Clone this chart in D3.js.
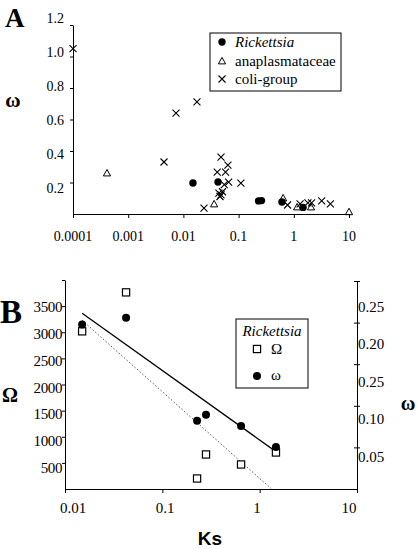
<!DOCTYPE html>
<html><head><meta charset="utf-8">
<script src="https://cdn.jsdelivr.net/npm/d3@7"></script>
<style>
body{margin:0;background:#fff;}
svg{display:block;}
</style></head>
<body>
<svg id="c" width="417" height="549" font-family="'Liberation Serif', 'DejaVu Serif', serif"></svg>
<script>
// ---------- Panel A data ----------
const rickA = [[0.0149,0.229],[0.0424,0.235],[0.23,0.124],[0.26,0.126],[0.61,0.118],[1.47,0.086]];
const anaA  = [[0.000413,0.288],[0.036,0.106],[0.64,0.141],[1.15,0.088],[2.05,0.088],[10,0.06]];
const coliA = [[0.0001,1.02],[0.00735,0.64],[0.0176,0.706],[0.00445,0.353],[0.0236,0.082],
               [0.048,0.382],[0.064,0.335],[0.041,0.294],[0.058,0.294],[0.066,0.235],[0.055,0.22],
               [0.11,0.229],[0.044,0.17],[0.048,0.16],[0.051,0.178],[0.046,0.15],
               [0.77,0.1],[1.3,0.106],[1.8,0.112],[2.1,0.112],[3.2,0.124],[4.6,0.106]];
const aXTicks = [0.0001,0.001,0.01,0.1,1,10];
const aXLabels = ["0.0001","0.001","0.01","0.1","1","10"];
const aYTicks = [0.2,0.4,0.6,0.8,1.0,1.2];
const aYLabels = ["0.2","0.4","0.6","0.8","1.0","1.2"];
const aLegend = ["Rickettsia","anaplasmataceae","coli-group"];

// ---------- Panel B data ----------
const bKs    = [0.015,0.0424,0.2275,0.281,0.644,1.47];
const bOmega = [3045,3770,307,754,568,791];
const bW     = [0.226,0.235,0.098,0.106,0.091,0.063];
const fitW   = [[0.015,0.241],[1.47,0.057]];
const fitOm  = [[0.015,3250],[1.31,120]];
const bXTicks = [0.01,0.1,1,10];
const bXLabels = ["0.01","0.1","1","10"];
const bLTicks = [500,1000,1500,2000,2500,3000,3500];
const bLLabels = ["500","1000","1500","2000","2500","3000","3500"];
const bRTicks = [0.05,0.10,0.15,0.20,0.25];
const bRLabels = ["0.05","0.10","0.25","0.20","0.25"];

const SERIF = "'Liberation Serif', 'DejaVu Serif', serif";
const SANS = "'Liberation Sans', Arial, sans-serif";
const svg = d3.select("#c");

function T(g){return g.append("text").attr("font-family",SERIF).attr("fill","#000");}
function cross(g,x,y,s){g.append("path").attr("d",`M${x-s},${y-s}L${x+s},${y+s}M${x-s},${y+s}L${x+s},${y-s}`).attr("stroke","#000").attr("stroke-width",1.1).attr("fill","none");}
function tri(g,x,y,s){g.append("path").attr("d",`M${x},${y-s}L${x+s},${y+s*0.8}L${x-s},${y+s*0.8}Z`).attr("stroke","#000").attr("stroke-width",1).attr("fill","none");}
function dot(g,x,y,r){g.append("circle").attr("cx",x).attr("cy",y).attr("r",r).attr("fill","#000");}
function sq(g,x,y,s){g.append("rect").attr("x",x-s).attr("y",y-s).attr("width",2*s).attr("height",2*s).attr("fill","#fff").attr("stroke","#000").attr("stroke-width",1.2);}

// ================= Panel A =================
const xA = d3.scaleLog().domain([1e-4,10]).range([73,349]);
const yA = d3.scaleLinear().domain([0,1.2]).range([222,18]);      // value / label scale
const yAt = d3.scaleLinear().domain([0,1.2]).range([214,25]);     // axis line scale
const gA = svg.append("g");

gA.append("g").attr("transform",`translate(0,${yAt(0)})`)
  .call(d3.axisBottom(xA).tickValues(aXTicks).tickFormat("").tickSize(4).tickSizeOuter(0))
  .call(g=>g.selectAll("path,line").attr("stroke","#000"));
gA.append("g").attr("transform",`translate(${xA(1e-4)},0)`)
  .call(d3.axisLeft(yAt).tickValues(aYTicks).tickFormat("").tickSize(3).tickSizeOuter(0))
  .call(g=>g.selectAll("path,line").attr("stroke","#000"));

aXTicks.forEach((d,i)=>T(gA).attr("x",xA(d)).attr("y",241).attr("text-anchor","middle").attr("font-size",14).text(aXLabels[i]));
aYTicks.forEach((d,i)=>T(gA).attr("x",64).attr("y",yA(d)+5).attr("text-anchor","end").attr("font-size",14).text(aYLabels[i]));

anaA.forEach(d=>tri(gA,xA(d[0]),yA(d[1]),3.6));
rickA.forEach(d=>dot(gA,xA(d[0]),yA(d[1]),3.7));
coliA.forEach(d=>cross(gA,xA(d[0]),yA(d[1]),3.5));

T(gA).attr("x",5).attr("y",27).attr("font-size",27).attr("font-weight","bold").text("A");
T(gA).attr("x",13).attr("y",107).attr("text-anchor","middle").attr("font-size",21).attr("font-weight","bold").text("ω");

// legend A
gA.append("rect").attr("x",210).attr("y",33).attr("width",131).attr("height",58).attr("fill","#fff").attr("stroke","#000");
dot(gA,222,42,3.7); tri(gA,222,61,3.6); cross(gA,222,79,3.5);
[42,61,79].forEach((y,i)=>{
  T(gA).attr("x",235).attr("y",y+5).attr("font-size",15)
    .attr("font-style",i===0?"italic":"normal").text(aLegend[i]);
});

// ================= Panel B =================
const xB = d3.scaleLog().domain([0.01,10]).range([65,357]);
const xBl = d3.scaleLog().domain([0.01,10]).range([73,349]);
const yO = d3.scaleLinear().domain([0,4000]).range([495,280]);
const yOt = d3.scaleLinear().domain([0,4000]).range([489,280]);
const yW = d3.scaleLinear().domain([0,0.25]).range([494.5,306.5]);
const yWt = d3.scaleLinear().domain([0,0.25]).range([489,281]);
const gB = svg.append("g");

gB.append("g").attr("transform",`translate(0,${yOt(0)})`)
  .call(d3.axisBottom(xB).tickValues(bXTicks).tickFormat("").tickSize(4).tickSizeOuter(0))
  .call(g=>g.selectAll("path,line").attr("stroke","#000"));
gB.append("g").attr("transform",`translate(${xB(0.01)},0)`)
  .call(d3.axisLeft(yOt).tickValues([500,1000,1500,2000,2500,3000,3500,4000]).tickFormat("").tickSize(3).tickSizeOuter(0))
  .call(g=>g.selectAll("path,line").attr("stroke","#000"));
gB.append("g").attr("transform",`translate(${xB(10)},0)`)
  .call(d3.axisRight(yWt).tickValues(bRTicks).tickFormat("").tickSize(3).tickSizeOuter(0))
  .call(g=>g.selectAll("path,line").attr("stroke","#000"))
  .call(g=>g.selectAll(".tick line").attr("x1",-3));

bXTicks.forEach((d,i)=>T(gB).attr("x",xBl(d)).attr("y",513).attr("text-anchor","middle").attr("font-size",15).text(bXLabels[i]));
bLTicks.forEach((d,i)=>T(gB).attr("x",62).attr("y",yO(d)+5).attr("text-anchor","end").attr("font-size",15).attr("letter-spacing",-0.4).text(bLLabels[i]));
bRTicks.forEach((d,i)=>T(gB).attr("x",358).attr("y",yW(d)+5).attr("text-anchor","start").attr("font-size",15).text(bRLabels[i]));

const line = d3.line();
gB.append("path").attr("d",line(fitOm.map(d=>[xB(d[0]),yO(d[1])]))).attr("stroke","#555")
  .attr("stroke-width",1).attr("stroke-dasharray","1.5,2").attr("fill","none");
gB.append("path").attr("d",line(fitW.map(d=>[xB(d[0]),yW(d[1])]))).attr("stroke","#000")
  .attr("stroke-width",1.3).attr("fill","none");

bKs.forEach((k,i)=>sq(gB,xB(k),yO(bOmega[i]),3.6));
bKs.forEach((k,i)=>dot(gB,xB(k),yW(bW[i]),4));

T(gB).attr("x",0).attr("y",323).attr("font-size",33).attr("font-weight","bold").text("B");
T(gB).attr("x",10).attr("y",402).attr("text-anchor","middle").attr("font-size",20).attr("font-weight","bold").text("Ω");
T(gB).attr("x",408).attr("y",410).attr("text-anchor","middle").attr("font-size",20).attr("font-weight","bold").text("ω");
gB.append("text").attr("x",210).attr("y",545).attr("text-anchor","middle").attr("font-size",19).attr("font-weight","bold")
  .attr("font-family",SANS).attr("fill","#000").text("Ks");

// legend B
gB.append("rect").attr("x",236).attr("y",319).attr("width",72).attr("height",69).attr("fill","#fff").attr("stroke","#000");
T(gB).attr("x",272).attr("y",336).attr("text-anchor","middle").attr("font-size",15).attr("font-style","italic").text("Rickettsia");
sq(gB,257,349,3.6); dot(gB,257,376,4);
T(gB).attr("x",271).attr("y",354).attr("font-size",15).text("Ω");
T(gB).attr("x",271).attr("y",380).attr("font-size",15).text("ω");
</script>
</body></html>
